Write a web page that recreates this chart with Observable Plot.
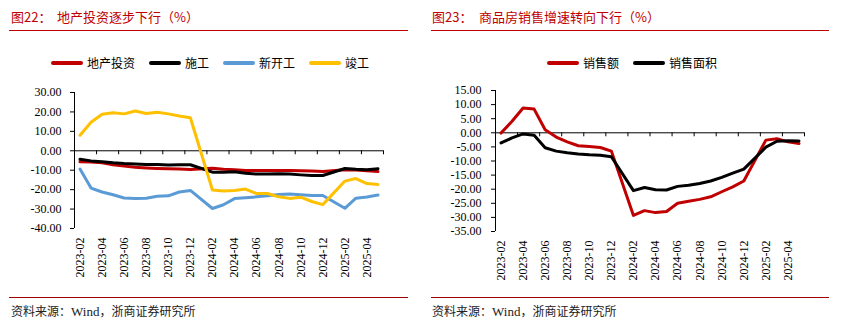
<!DOCTYPE html>
<html><head><meta charset="utf-8">
<script src="https://cdn.jsdelivr.net/npm/d3@7"></script>
<script src="https://cdn.jsdelivr.net/npm/@observablehq/plot@0.6"></script>
<style>
body{margin:0;background:#fff;width:843px;height:335px;position:relative;overflow:hidden;font-family:"Noto Sans CJK SC",sans-serif;}
.abs{position:absolute;}
.title{color:#c00000;font-size:13px;line-height:14px;white-space:nowrap;}
.rule{height:1px;background:#c00000;}
.rule2{height:1px;background:#a00000;}
.legend{font-size:12px;line-height:12px;white-space:nowrap;display:flex;align-items:center;color:#000;}
.item{display:flex;align-items:center;margin-right:14px;}
.sw{display:inline-block;width:32px;height:4px;border-radius:2px;margin-right:4px;}
.src{font-size:12px;line-height:14px;color:#222;white-space:nowrap;}
.src .w{font-family:"Liberation Serif",serif;font-size:13px;}
</style></head>
<body>
<div class="abs title" style="left:11px;top:10px;">图22：</div>
<div class="abs title" style="left:57px;top:10px;">地产投资逐步下行（%）</div>
<div class="abs rule" style="left:9px;top:30px;width:399px;"></div>
<div class="abs legend" id="leg1" style="left:51px;top:57px;"></div>
<div class="abs" id="chart1" style="left:0px;top:80px;"></div>
<div class="abs rule2" style="left:9px;top:297px;width:399px;"></div>
<div class="abs src" style="left:11px;top:304px;">资料来源：<span class="w">Wind</span>，浙商证券研究所</div>

<div class="abs title" style="left:432px;top:10px;">图23：</div>
<div class="abs title" style="left:479px;top:10px;">商品房销售增速转向下行（%）</div>
<div class="abs rule" style="left:431px;top:30px;width:398px;"></div>
<div class="abs legend" id="leg2" style="left:547px;top:57px;"></div>
<div class="abs" id="chart2" style="left:420px;top:80px;"></div>
<div class="abs rule2" style="left:431px;top:297px;width:398px;"></div>
<div class="abs src" style="left:432px;top:304px;">资料来源：<span class="w">Wind</span>，浙商证券研究所</div>

<script>
// Categories (monthly, Jan-Feb cumulative reported in Feb; January has no value)
const months = ["2023-02","2023-03","2023-04","2023-05","2023-06","2023-07","2023-08","2023-09","2023-10","2023-11","2023-12",
  "2024-01","2024-02","2024-03","2024-04","2024-05","2024-06","2024-07","2024-08","2024-09","2024-10","2024-11","2024-12",
  "2025-01","2025-02","2025-03","2025-04","2025-05"];

// Left chart series (%)
const investment   = [-5.7,-5.8,-6.2,-7.2,-7.9,-8.5,-8.8,-9.1,-9.3,-9.4,-9.6,null,-9.0,-9.5,-9.8,-10.1,-10.1,-10.2,-10.2,-10.1,-10.3,-10.4,-10.6,null,-9.8,-9.9,-10.3,-10.7];
const construction = [-4.4,-5.2,-5.6,-6.2,-6.6,-6.8,-7.1,-7.1,-7.3,-7.2,-7.2,null,-11.0,-11.1,-10.8,-11.6,-12.0,-12.0,-11.8,-12.0,-12.4,-12.7,-12.7,null,-9.1,-9.5,-9.7,-9.2];
const newStarts    = [-9.4,-19.2,-21.2,-22.6,-24.3,-24.5,-24.4,-23.4,-23.2,-21.2,-20.4,null,-29.7,-27.8,-24.6,-24.2,-23.7,-23.2,-22.5,-22.2,-22.6,-23.0,-23.0,null,-29.6,-24.4,-23.8,-22.8];
const completions  = [8.0,14.7,18.8,19.6,19.0,20.5,19.2,19.8,19.0,17.9,17.0,null,-20.2,-20.7,-20.4,-19.7,-22.0,-22.0,-23.7,-24.5,-23.9,-26.1,-27.7,null,-15.6,-14.3,-16.9,-17.3];

// Right chart series (%)
const salesValue = [-0.1,4.1,8.8,8.4,1.1,-1.5,-3.2,-4.6,-4.9,-5.2,-6.5,null,-29.3,-27.6,-28.3,-27.9,-25.0,-24.3,-23.6,-22.7,-20.9,-19.2,-17.1,null,-2.6,-2.1,-3.2,-3.8];
const salesArea  = [-3.6,-1.8,-0.4,-0.9,-5.3,-6.5,-7.1,-7.5,-7.8,-8.0,-8.5,null,-20.5,-19.4,-20.2,-20.3,-19.0,-18.6,-18.0,-17.1,-15.8,-14.3,-12.9,null,-5.1,-3.0,-2.8,-2.9];

// Names and colours
const leftNames  = ["地产投资","施工","新开工","竣工"];
const leftColors = ["#c00000","#000000","#5b9bd5","#ffc000"];
const rightNames  = ["销售额","销售面积"];
const rightColors = ["#c00000","#000000"];

// Tick values
const leftYTicks  = [30,20,10,0,-10,-20,-30,-40];
const rightYTicks = [15,10,5,0,-5,-10,-15,-20,-25,-30,-35];

function legend(el, names, colors) {
  const box = document.getElementById(el);
  names.forEach((n, k) => {
    const it = document.createElement("div"); it.className = "item";
    const sw = document.createElement("span"); sw.className = "sw"; sw.style.background = colors[k];
    const tx = document.createElement("span"); tx.textContent = n;
    it.appendChild(sw); it.appendChild(tx); box.appendChild(it);
  });
}

function chart(el, seriesVals, names, colors, yDomain, yTicks, dims) {
  const series = seriesVals.map((vals, k) => ({
    name: names[k], color: colors[k],
    rows: vals.map((v, i) => ({i, v})).filter(r => r.v != null)
  }));
  const bounds = d3.range(-0.5, months.length, 2);
  const labelIdx = d3.range(0, months.length - 1, 2);
  const fmt = d => d.toFixed(2);
  const p = Plot.plot({
    width: dims.width, height: dims.height,
    marginLeft: dims.ml, marginRight: dims.mr, marginTop: dims.mt, marginBottom: dims.mb,
    x: {domain: [-0.5, months.length - 0.5]},
    y: {domain: yDomain},
    style: {fontFamily: "'Liberation Serif', serif", fontSize: "12px", color: "#000", background: "transparent", overflow: "visible"},
    marks: [
      Plot.axisY({ticks: yTicks, tickFormat: fmt, tickSize: 4, tickPadding: dims.tp, label: null, fontSize: 12}),
      Plot.axisX({ticks: labelIdx, tickFormat: i => months[i], tickRotate: -90, tickSize: 0, tickPadding: 9, label: null, fontSize: 12}),
      Plot.ruleX([-0.5], {stroke: "#000", strokeWidth: 1}),
      Plot.ruleY([0], {stroke: "#000", strokeWidth: 1}),
      Plot.ruleX(bounds, {x: d => d, y1: 0, y2: 0, insetBottom: -4, stroke: "#000"}),
      ...series.map(s => Plot.line(s.rows, {x: "i", y: "v", stroke: s.color, strokeWidth: 3, strokeLinejoin: "round", strokeLinecap: "round"}))
    ]
  });
  document.getElementById(el).appendChild(p);
}

legend("leg1", leftNames, leftColors);
legend("leg2", rightNames, rightColors);
chart("chart1", [investment, construction, newStarts, completions], leftNames, leftColors, [-40, 30], leftYTicks,
  {width: 420, height: 210, ml: 74, mr: 37, mt: 12, mb: 62, tp: 9});
chart("chart2", [salesValue, salesArea], rightNames, rightColors, [-35, 15], rightYTicks,
  {width: 423, height: 210, ml: 75, mr: 39, mt: 10, mb: 59, tp: 10});
</script>
</body></html>
